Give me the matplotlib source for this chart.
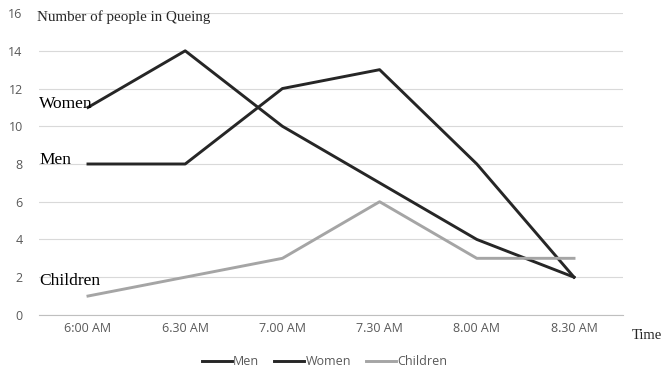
import matplotlib.pyplot as plt

# Data
times = ['6:00 AM', '6.30 AM', '7.00 AM', '7.30 AM', '8.00 AM', '8.30 AM']
men = [8, 8, 12, 13, 8, 2]
women = [11, 14, 10, 7, 4, 2]
children = [1, 2, 3, 6, 3, 3]

fig = plt.figure(figsize=(6.62, 3.74), dpi=100)
ax = fig.add_axes([0.0595, 0.158, 0.881, 0.807])

x = list(range(len(times)))
ax.plot(x, men, color='#262626', lw=2.1, label='Men')
ax.plot(x, women, color='#262626', lw=2.1, label='Women')
ax.plot(x, children, color='#a5a5a5', lw=2.1, label='Children')

ax.set_xlim(-0.5, len(times) - 0.5)
ax.set_ylim(0, 16)
ax.set_yticks(range(0, 17, 2))
ax.set_xticks(x)
ax.set_xticklabels(times)
ax.grid(axis='y', color='#d9d9d9', lw=0.8)
ax.set_axisbelow(True)
for s in ['top', 'right', 'left']:
    ax.spines[s].set_visible(False)
ax.spines['bottom'].set_color('#bfbfbf')
ax.tick_params(length=0, labelsize=9, colors='#595959')
ax.tick_params(axis='x', pad=5)
ax.tick_params(axis='y', pad=12)
for lab in ax.get_xticklabels() + ax.get_yticklabels():
    lab.set_family('Open Sans')

serif = 'Liberation Serif'
fig.text(0.056, 0.954, 'Number of people in Queing', family=serif, fontsize=10.8, va='center', color='#262626')
fig.text(0.955, 0.103, 'Time', family=serif, fontsize=10.5, va='center', color='#262626')

# series labels on the left
ax.text(-0.5, 11.2, 'Women', family=serif, fontsize=12.5, va='center')
ax.text(-0.5, 8.2, 'Men', family=serif, fontsize=12.5, va='center')
ax.text(-0.5, 1.8, 'Children', family=serif, fontsize=12.5, va='center')

leg = fig.legend(loc='center', bbox_to_anchor=(0.49, 0.033), ncol=3, frameon=False,
                 handlelength=2.4, handletextpad=0.1, columnspacing=1.2,
                 prop={'family': 'Open Sans', 'size': 9})
for t in leg.get_texts():
    t.set_color('#595959')

fig.savefig('out.png', dpi=100)
